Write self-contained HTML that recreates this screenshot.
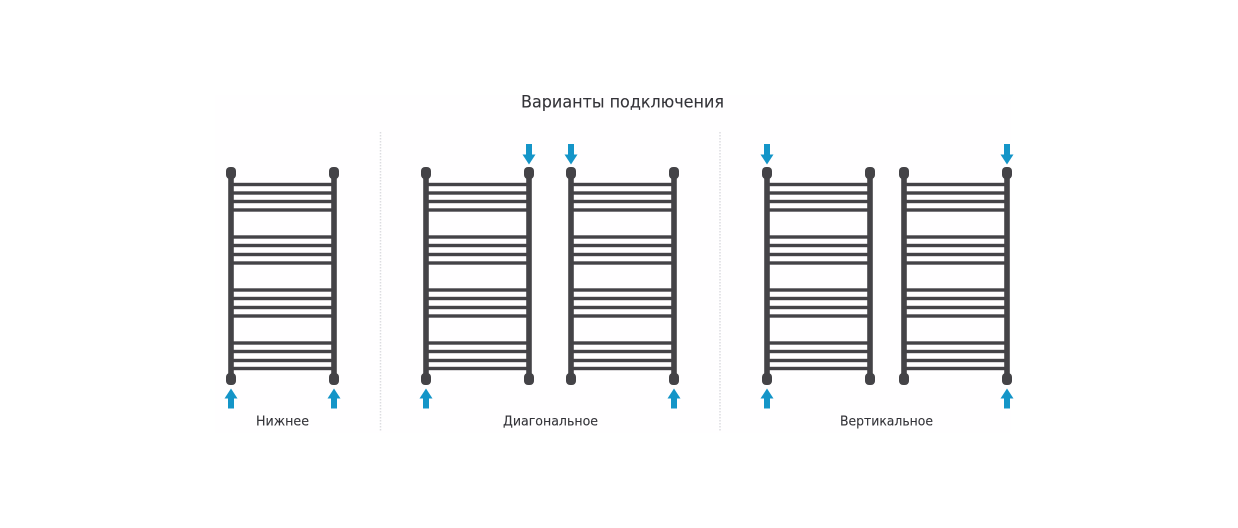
<!DOCTYPE html>
<html lang="ru">
<head>
<meta charset="utf-8">
<title>Варианты подключения</title>
<style>
html,body{margin:0;padding:0;background:#fff;width:1238px;height:528px;overflow:hidden}
svg{display:block}
text{font-family:"DejaVu Sans","Liberation Sans",sans-serif;fill:#333338;stroke:#333338;stroke-width:.1}
</style>
</head>
<body>
<svg width="1238" height="528" viewBox="0 0 1238 528" xmlns="http://www.w3.org/2000/svg">
<defs>
<g id="rail">
  <g fill="#444347">
    <rect x="0" y="182.800" width="103" height="3.400"/><rect x="0" y="191.300" width="103" height="3.400"/><rect x="0" y="199.800" width="103" height="3.400"/><rect x="0" y="208.300" width="103" height="3.400"/>
    <rect x="0" y="235.300" width="103" height="3.400"/><rect x="0" y="243.800" width="103" height="3.400"/><rect x="0" y="252.800" width="103" height="3.400"/><rect x="0" y="261.300" width="103" height="3.400"/>
    <rect x="0" y="288.300" width="103" height="3.400"/><rect x="0" y="296.800" width="103" height="3.400"/><rect x="0" y="305.800" width="103" height="3.400"/><rect x="0" y="314.300" width="103" height="3.400"/>
    <rect x="0" y="341.300" width="103" height="3.400"/><rect x="0" y="349.800" width="103" height="3.400"/><rect x="0" y="358.800" width="103" height="3.400"/><rect x="0" y="366.800" width="103" height="3.400"/>
    <rect x="-2.800" y="173" width="5.600" height="206"/>
    <rect x="100.200" y="173" width="5.600" height="206"/>
    <rect x="-5" y="167" width="10" height="12" rx="4" ry="4"/>
    <rect x="98" y="167" width="10" height="12" rx="4" ry="4"/>
    <rect x="-5" y="373" width="10" height="12" rx="4" ry="4"/>
    <rect x="98" y="373" width="10" height="12" rx="4" ry="4"/>
  </g>
</g>
<path id="up" d="M0 388.500L6.500 398.500H3V408.500H-3V398.500H-6.500Z" fill="#1495c8"/>
<path id="down" d="M0 164.500L6.500 154.500H3V144H-3V154.500H-6.500Z" fill="#1495c8"/>
</defs>

<rect width="1238" height="528" fill="#fff"/>
<rect x="215" y="95" width="796" height="338" fill="#fffeff"/>

<text x="521" y="107.500" font-size="16.500" textLength="203" lengthAdjust="spacingAndGlyphs">Варианты подключения</text>

<line x1="380.500" y1="132" x2="380.500" y2="432" stroke="#dcdce0" stroke-width="1.500" stroke-dasharray="1.500 1.500"/>
<line x1="720" y1="132" x2="720" y2="432" stroke="#dcdce0" stroke-width="1.500" stroke-dasharray="1.500 1.500"/>

<use href="#rail" x="231"/>
<use href="#rail" x="426"/>
<use href="#rail" x="571"/>
<use href="#rail" x="767"/>
<use href="#rail" x="904"/>

<use href="#up" x="231"/>
<use href="#up" x="334"/>
<use href="#up" x="426"/>
<use href="#up" x="674"/>
<use href="#up" x="767"/>
<use href="#up" x="1007"/>

<use href="#down" x="529"/>
<use href="#down" x="571"/>
<use href="#down" x="767"/>
<use href="#down" x="1007"/>

<text x="256" y="425.500" font-size="13.500" textLength="53" lengthAdjust="spacingAndGlyphs">Нижнее</text>
<text x="503" y="425.500" font-size="13.500" textLength="95" lengthAdjust="spacingAndGlyphs">Диагональное</text>
<text x="840" y="425.500" font-size="13.500" textLength="93" lengthAdjust="spacingAndGlyphs">Вертикальное</text>
</svg>
</body>
</html>
